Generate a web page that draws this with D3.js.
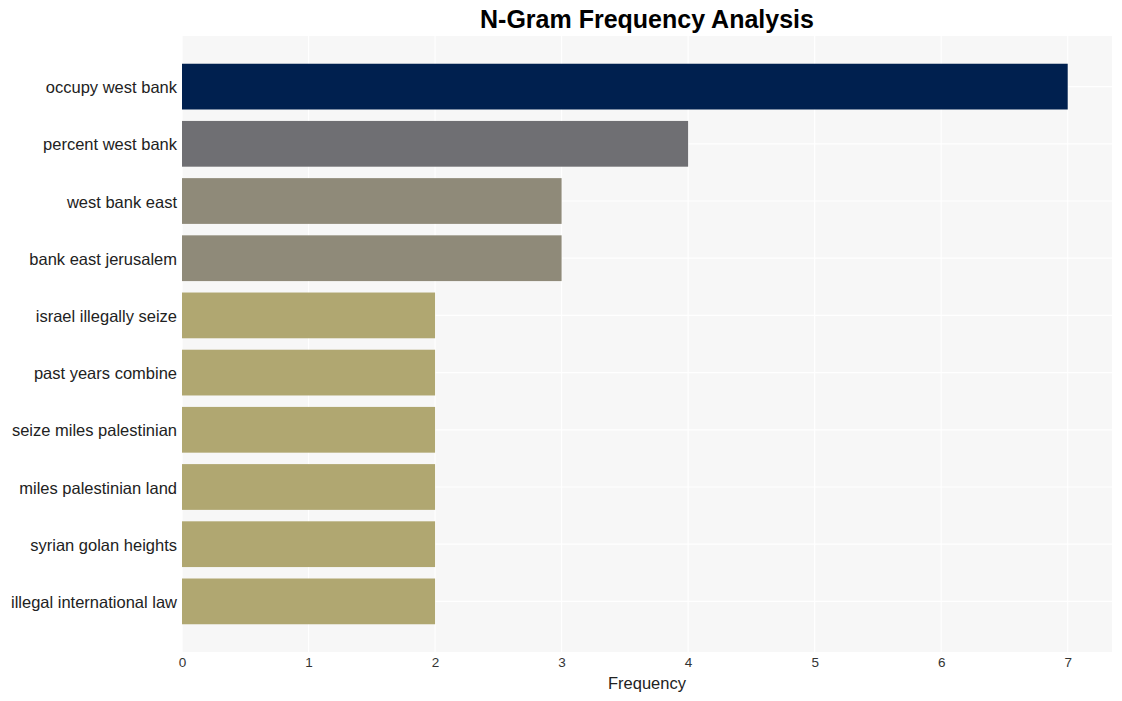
<!DOCTYPE html>
<html><head><meta charset="utf-8">
<script src="https://cdn.jsdelivr.net/npm/d3@7"></script>
<style>body{margin:0;background:#fff;font-family:Arial,"Liberation Sans",sans-serif;}</style>
</head><body>
<svg id="chart" width="1122" height="701"></svg>
<script>
const categories = ["occupy west bank","percent west bank","west bank east","bank east jerusalem","israel illegally seize","past years combine","seize miles palestinian","miles palestinian land","syrian golan heights","illegal international law"];
const values = [7,4,3,3,2,2,2,2,2,2];
const colors = ["#00204f","#6f6f73","#8f8a79","#8f8a79","#b0a771","#b0a771","#b0a771","#b0a771","#b0a771","#b0a771"];
const xTicks = [0,1,2,3,4,5,6,7];
const title = "N-Gram Frequency Analysis";
const xTitle = "Frequency";

const svg = d3.select("#chart");
const m = {left:182, right:10, top:36, bottom:49};
const W = 1122, H = 701;
const x = d3.scaleLinear().domain([0,7.35]).range([m.left, W-m.right]);
const y = d3.scaleBand().domain(categories).range([m.top, H-m.bottom]).paddingInner(0.2).paddingOuter(0.485);

svg.append("rect").attr("x",m.left).attr("y",m.top).attr("width",W-m.right-m.left).attr("height",H-m.bottom-m.top).attr("fill","#f7f7f7");

svg.append("g").selectAll("line").data(xTicks).join("line")
  .attr("x1",d=>x(d)).attr("x2",d=>x(d)).attr("y1",m.top).attr("y2",H-m.bottom)
  .attr("stroke","#ffffff").attr("stroke-width",1.2);
svg.append("g").selectAll("line").data(categories).join("line")
  .attr("x1",m.left).attr("x2",W-m.right).attr("y1",d=>y(d)+y.bandwidth()/2).attr("y2",d=>y(d)+y.bandwidth()/2)
  .attr("stroke","#ffffff").attr("stroke-width",1.2);

svg.append("g").selectAll("rect").data(categories).join("rect")
  .attr("x",x(0)).attr("y",d=>y(d)).attr("height",y.bandwidth())
  .attr("width",(d,i)=>x(values[i])-x(0)).attr("fill",(d,i)=>colors[i]);

const xa = svg.append("g").attr("transform",`translate(0,${H-m.bottom})`)
  .call(d3.axisBottom(x).tickValues(xTicks).tickSize(0).tickPadding(5));
xa.select(".domain").remove();
xa.selectAll("text").attr("font-size",13.5).attr("fill","#333").attr("font-family","Arial,'Liberation Sans',sans-serif");

const ya = svg.append("g").attr("transform",`translate(${m.left},0)`)
  .call(d3.axisLeft(y).tickSize(0).tickPadding(5));
ya.select(".domain").remove();
ya.selectAll("text").attr("font-size",16.5).attr("dy","0.4em").attr("fill","#222").attr("font-family","Arial,'Liberation Sans',sans-serif");

svg.append("text").attr("x",(m.left+W-m.right)/2).attr("y",689).attr("text-anchor","middle")
  .attr("font-size",16.5).attr("fill","#222").text(xTitle);
svg.append("text").attr("x",647).attr("y",28).attr("text-anchor","middle")
  .attr("font-size",25).attr("font-weight","bold").attr("fill","#000").text(title);
</script>
</body></html>
